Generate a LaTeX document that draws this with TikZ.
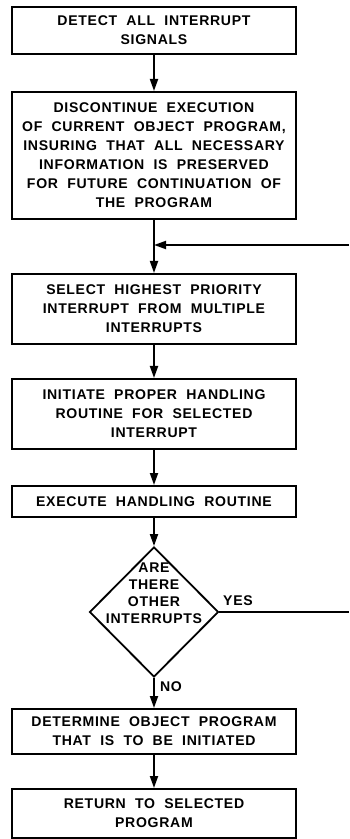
\documentclass[tikz,border=0pt]{standalone}
\usepackage{fontspec}
\newfontfamily\chartfont[LetterSpace=5,WordSpace=2]{Liberation Sans}
\usetikzlibrary{shapes.geometric,arrows.meta}

\begin{document}
\begin{tikzpicture}[
    x=0.025cm, y=-0.025cm,
    task/.style={draw, line width=1.3pt, minimum width=7.1cm, align=center, inner sep=0pt, anchor=north, font=\chartfont\bfseries\fontsize{10}{13.5}\selectfont},
    test/.style={draw, diamond, line width=1.3pt, minimum width=3.225cm, minimum height=3.25cm, inner sep=0pt},
    tag/.style={inner sep=0pt, align=center, font=\chartfont\bfseries\fontsize{10}{12}\selectfont},
    wire/.style={line width=1.3pt},
    flow/.style={wire, -{Triangle[length=0.3cm,width=0.2cm]}},
]
\useasboundingbox (0,0) rectangle (349,839);
\node[task, minimum height=1.175cm] (detect) at (154,6) {DETECT ALL INTERRUPT\\SIGNALS};
\node[task, minimum height=3.175cm] (halt) at (154,91) {DISCONTINUE EXECUTION\\OF CURRENT OBJECT PROGRAM,\\INSURING THAT ALL NECESSARY\\INFORMATION IS PRESERVED\\FOR FUTURE CONTINUATION OF\\THE PROGRAM};
\coordinate (join) at (154,245);
\coordinate (loopin) at (349,245);
\node[task, minimum height=1.75cm] (pick) at (154,273) {SELECT HIGHEST PRIORITY\\INTERRUPT FROM MULTIPLE\\INTERRUPTS};
\node[task, minimum height=1.75cm] (start) at (154,378) {INITIATE PROPER HANDLING\\ROUTINE FOR SELECTED\\INTERRUPT};
\node[task, minimum height=0.775cm] (exec) at (154,485) {EXECUTE HANDLING ROUTINE};
\node[test] (more) at (154,612) {};
\node[tag] (ask) at (154,593) {ARE\\THERE\\OTHER\\INTERRUPTS};
\coordinate (yesend) at (349,612);
\node[tag] (yes) at (238,601) {YES};
\node[tag] (no) at (171,687) {NO};
\node[task, minimum height=1.125cm] (target) at (154,708) {DETERMINE OBJECT PROGRAM\\THAT IS TO BE INITIATED};
\node[task, minimum height=1.225cm] (back) at (154,788) {RETURN TO SELECTED\\PROGRAM};
\draw[flow] (detect) -- (halt);
\draw[wire] (halt) -- (join);
\draw[flow] (loopin) -- (join);
\draw[wire] (more) -- (yesend);
\foreach \a/\b in {join/pick, pick/start, start/exec, exec/more, more/target, target/back}
  \draw[flow] (\a) -- (\b);
\end{tikzpicture}
\end{document}
